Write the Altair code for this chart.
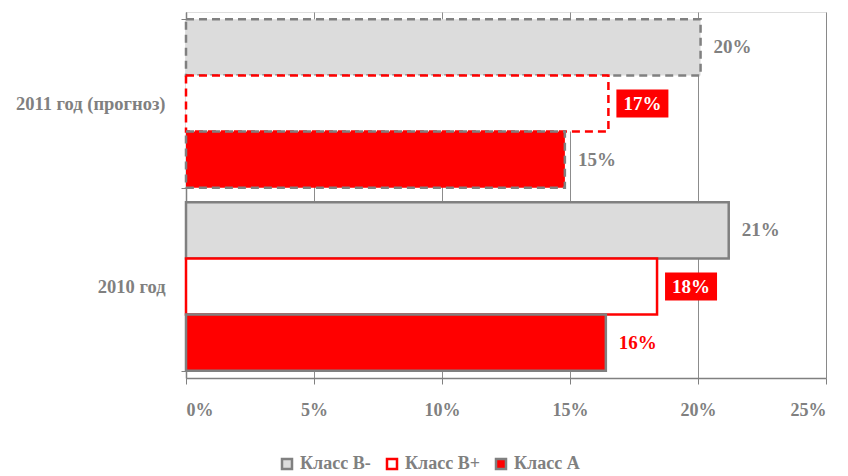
import altair as alt
import pandas as pd

year_order = ["2011 год (прогноз)", "2010 год"]
class_order = ["Класс В-", "Класс В+", "Класс А"]

years = ["2011 год (прогноз)"] * 3 + ["2010 год"] * 3
classes = ["Класс В-", "Класс В+", "Класс А"] * 2
values = [0.201, 0.165, 0.148, 0.212, 0.184, 0.164]
labels = ["20%", "17%", "15%", "21%", "18%", "16%"]

fill_colors = ["#DCDCDC", "#FFFFFF", "#FF0000"]
stroke_colors = ["#808080", "#FF0000", "#808080"]

df = pd.DataFrame({"year": years, "cls": classes, "value": values, "label": labels})

FONT = "'Liberation Serif', 'Times New Roman', 'DejaVu Serif', serif"
GREY = "#808080"

y_enc = alt.Y(
    "year:N",
    sort=year_order,
    title=None,
    scale=alt.Scale(paddingInner=0.08, paddingOuter=0.04),
    axis=alt.Axis(
        labelFont=FONT, labelFontWeight="bold", labelFontSize=18.5, labelColor=GREY,
        domainColor=GREY, domainWidth=1.5, tickColor=GREY, tickBand="extent",
        tickSize=5, labelPadding=16, grid=False,
    ),
)
yoff_enc = alt.YOffset("cls:N", sort=class_order, scale=alt.Scale(paddingInner=0, paddingOuter=0))
x_enc = alt.X(
    "value:Q",
    title=None,
    scale=alt.Scale(domain=[0, 0.25], nice=False),
    axis=alt.Axis(
        format=".0%", values=[0, 0.05, 0.1, 0.15, 0.2, 0.25],
        labelFont=FONT, labelFontWeight="bold", labelFontSize=18, labelColor=GREY,
        domainColor=GREY, domainWidth=1.5, tickColor=GREY, tickSize=6, labelPadding=17,
        gridColor=GREY, gridWidth=1, gridOpacity=0.9,
    ),
)

legend = alt.Legend(
    title=None, orient="none", direction="horizontal", legendX=92, legendY=443,
    symbolType="square", symbolSize=100, symbolStrokeWidth=2.5,
    labelFont=FONT, labelFontWeight="bold", labelFontSize=18, labelColor=GREY,
    columnPadding=11, labelOffset=4, padding=0,
)

fill_enc = alt.Fill("cls:N", sort=class_order, scale=alt.Scale(domain=class_order, range=fill_colors), legend=legend)
stroke_enc = alt.Stroke("cls:N", sort=class_order, scale=alt.Scale(domain=class_order, range=stroke_colors), legend=legend)

base = alt.Chart(df).encode(y=y_enc, yOffset=yoff_enc, x=x_enc)

bars_2011 = base.transform_filter(alt.datum.year == year_order[0]).mark_bar(
    strokeWidth=2.5, strokeDash=[8, 5], opacity=1
).encode(fill=fill_enc, stroke=stroke_enc)

bars_2010 = base.transform_filter(alt.datum.year == year_order[1]).mark_bar(
    strokeWidth=2.5, opacity=1
).encode(fill=fill_enc, stroke=stroke_enc)

plain_text = base.transform_filter(alt.datum.cls != class_order[1]).mark_text(
    align="left", baseline="middle", dx=13, font=FONT, fontWeight="bold", fontSize=19
).encode(
    text="label:N",
    color=alt.condition(
        (alt.datum.cls == class_order[2]) & (alt.datum.year == year_order[1]),
        alt.value("#FF0000"), alt.value(GREY),
    ),
)

boxes = base.transform_filter(alt.datum.cls == class_order[1]).mark_point(
    shape="M-1,-0.54H1V0.54H-1Z", filled=True, color="#FF0000", size=2704,
    xOffset=34, opacity=1, strokeWidth=0,
)

box_text = base.transform_filter(alt.datum.cls == class_order[1]).mark_text(
    align="center", baseline="middle", dx=34, font=FONT, fontWeight="bold", fontSize=19,
    color="white",
).encode(text="label:N")

chart = alt.layer(bars_2011, bars_2010, plain_text, boxes, box_text).properties(
    width=640, height=366,
    autosize=alt.AutoSizeParams(type="none"),
    padding={"left": 186, "top": 12, "right": 22, "bottom": 98},
).configure_view(stroke=None).configure(background="white")

chart.save("out.html", embed_options={"renderer": "svg", "actions": False})
